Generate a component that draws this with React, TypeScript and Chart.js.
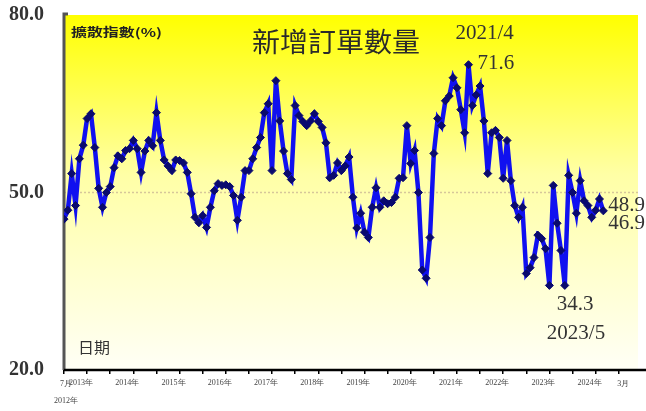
import React, { useEffect, useRef } from 'react';
import { Chart, registerables } from 'chart.js';

Chart.register(...registerables);

// Monthly values, 2012/7 … 2024/3
const VALUES: number[] = [
  45.5, 47.0, 53.2, 47.8, 55.7, 58.0, 62.5, 63.3, 57.6, 50.7, 47.5, 50.0,
  51.0, 54.2, 56.2, 55.7, 57.1, 57.4, 58.8, 57.4, 53.4, 57.0, 58.8, 57.9,
  63.5, 58.8, 55.5, 54.5, 53.7, 55.5, 55.4, 55.0, 53.4, 49.8, 45.8, 44.9,
  46.1, 44.1, 47.5, 50.3, 51.5, 51.2, 51.3, 51.0, 49.5, 45.3, 49.2, 53.7,
  53.7, 55.7, 57.6, 59.3, 63.5, 65.0, 53.7, 68.9, 62.1, 57.0, 53.2, 52.2,
  64.7, 63.0, 62.0, 61.3, 62.1, 63.3, 62.0, 61.0, 58.4, 52.5, 52.9, 55.0,
  53.7, 54.5, 56.0, 49.2, 44.0, 46.5, 43.3, 42.4, 47.5, 50.8, 47.5, 48.6,
  48.1, 48.3, 49.2, 52.4, 52.5, 61.3, 54.9, 57.1, 50.0, 36.9, 35.5, 42.4,
  56.6, 62.5, 61.3, 65.5, 66.3, 69.4, 67.7, 64.0, 60.1, 71.6, 64.7, 66.5,
  68.0, 62.1, 53.2, 60.1, 60.5, 59.3, 52.4, 58.8, 52.0, 47.8, 45.8, 47.5,
  36.3, 37.3, 39.0, 42.8, 42.2, 40.5, 34.3, 51.2, 44.8, 40.2, 34.3, 52.9,
  50.0, 46.5, 52.0, 48.6, 47.8, 45.8, 47.0, 48.9, 46.9,
];

const YEAR_LABELS = ['2013年', '2014年', '2015年', '2016年', '2017年', '2018年', '2019年', '2020年', '2021年', '2022年', '2023年', '2024年'];
const START_LABELS = ['7月', '2012年'];
const END_LABEL = '3月';
const Y_TICKS = [20, 50, 80];
const TITLE = '新增訂單數量';
const Y_TITLE = '擴散指數(%)';
const X_TITLE = '日期';
const PEAK = { index: 105, label: '2021/4', value: '71.6' };
const TROUGH = { index: 130, label: '2023/5', value: '34.3' };
const LAST_LABELS = ['48.9', '46.9'];

const SERIF = '"Liberation Serif", "Times New Roman", serif';
const CJK = '"Noto Sans CJK TC", "Noto Sans CJK SC", sans-serif';

function stretchText(ctx: CanvasRenderingContext2D, text: string, x: number, y: number, width: number) {
  const w = ctx.measureText(text).width;
  ctx.save();
  ctx.translate(x, y);
  ctx.scale(width / w, 1);
  ctx.fillText(text, 0, 0);
  ctx.restore();
}

const decorPlugin = {
  id: 'decor',
  beforeDraw(chart: any) {
    const { ctx, chartArea: a } = chart;
    ctx.save();
    const g = ctx.createLinearGradient(0, a.top, 0, a.bottom);
    g.addColorStop(0, '#ffff00');
    g.addColorStop(0.45, '#ffffa6');
    g.addColorStop(1, '#fffff6');
    ctx.fillStyle = g;
    ctx.fillRect(a.left, a.top, a.right - a.left, a.bottom - a.top);
    const y50 = chart.scales.y.getPixelForValue(50);
    ctx.strokeStyle = '#d6c79a';
    ctx.lineWidth = 1.5;
    ctx.setLineDash([2, 2]);
    ctx.beginPath();
    ctx.moveTo(a.left, y50);
    ctx.lineTo(a.right, y50);
    ctx.stroke();
    ctx.restore();
  },
  beforeDatasetsDraw(chart: any) {
    const { ctx, chartArea: a, width } = chart;
    ctx.save();
    ctx.strokeStyle = '#555';
    ctx.lineWidth = 3;
    ctx.beginPath();
    ctx.moveTo(a.left + 4, a.top - 1);
    ctx.lineTo(a.left, a.top - 1);
    ctx.lineTo(a.left, a.bottom);
    ctx.stroke();
    ctx.strokeStyle = '#000';
    ctx.lineWidth = 2.5;
    ctx.beginPath();
    ctx.moveTo(a.left, a.bottom);
    ctx.lineTo(width, a.bottom);
    ctx.stroke();
    ctx.restore();
  },
  afterDraw(chart: any) {
    const { ctx, scales } = chart;
    const x = scales.x;
    const y = scales.y;
    ctx.save();
    ctx.textBaseline = 'middle';
    ctx.textAlign = 'left';

    // title
    ctx.fillStyle = '#2b2b2b';
    ctx.font = `27px ${CJK}`;
    stretchText(ctx, TITLE, 252, 42, 168);

    // y title
    ctx.font = `bold 12px ${CJK}`;
    ctx.fillStyle = '#222';
    stretchText(ctx, Y_TITLE, 71, 32, 91);

    // x title
    ctx.font = `15px ${CJK}`;
    ctx.fillStyle = '#333';
    stretchText(ctx, X_TITLE, 78, 347, 32);

    // peak
    const px = x.getPixelForValue(PEAK.index);
    const py = y.getPixelForValue(VALUES[PEAK.index]);
    ctx.font = `21px ${SERIF}`;
    ctx.fillStyle = '#333';
    ctx.fillText(PEAK.label, px - 13, py - 31);
    ctx.fillText(PEAK.value, px + 9, py - 1);

    // trough
    const tx = x.getPixelForValue(TROUGH.index);
    const ty = y.getPixelForValue(VALUES[TROUGH.index]);
    ctx.fillText(TROUGH.value, tx - 8, ty + 19);
    ctx.fillText(TROUGH.label, tx - 18, ty + 48);

    // last values
    const lx = x.getPixelForValue(VALUES.length - 1);
    ctx.fillText(LAST_LABELS[0], lx + 5, 205);
    ctx.fillText(LAST_LABELS[1], lx + 5, 223);

    // start / end x labels
    ctx.font = `8px ${SERIF}`;
    ctx.fillStyle = '#444';
    ctx.textAlign = 'center';
    const sx = x.getPixelForValue(0);
    ctx.fillText(START_LABELS[0], sx + 2, 384);
    ctx.fillText(START_LABELS[1], sx + 2, 401);
    ctx.fillText(END_LABEL, x.getPixelForValue(VALUES.length - 1) + 20, 384);
    ctx.restore();
  },
};

export default function App() {
  const ref = useRef<HTMLCanvasElement | null>(null);
  useEffect(() => {
    if (!ref.current) return;
    const data = VALUES.map((v, i) => ({ x: i, y: v }));
    const chart = new Chart(ref.current, {
      type: 'line',
      data: {
        datasets: [
          {
            data,
            borderColor: '#1010f0',
            borderWidth: 4.5,
            pointStyle: 'rectRot',
            pointRadius: 4,
            pointBackgroundColor: '#0a0a6e',
            pointBorderColor: '#0a0a6e',
            pointBorderWidth: 1,
            tension: 0,
          },
        ],
      },
      options: {
        animation: false,
        responsive: false,
        maintainAspectRatio: false,
        layout: { padding: { top: 15, right: 8, left: 0, bottom: 0 } },
        plugins: { legend: { display: false }, tooltip: { enabled: false }, title: { display: false } },
        scales: {
          x: {
            type: 'linear',
            min: 0,
            max: 149,
            afterFit: (s: any) => {
              s.height = 41;
              s.paddingLeft = 0;
              s.paddingRight = 0;
            },
            afterBuildTicks: (s: any) => {
              const t = [];
              for (let v = 0; v <= 144; v += 6) t.push({ value: v });
              s.ticks = t;
            },
            grid: { display: true, drawOnChartArea: false, drawTicks: true, tickLength: 4, color: '#000', lineWidth: 1.5 },
            border: { display: false },
            ticks: {
              autoSkip: false,
              maxRotation: 0,
              padding: 4,
              labelOffset: -6,
              color: '#444',
              font: { family: SERIF, size: 8 },
              callback: (v: any) => {
                const n = Number(v);
                if (n >= 6 && (n - 6) % 12 === 0) return YEAR_LABELS[(n - 6) / 12] ?? '';
                return '';
              },
            },
          },
          y: {
            min: 20,
            max: 80,
            afterFit: (s: any) => {
              s.width = 64;
              s.paddingTop = 0;
              s.paddingBottom = 0;
            },
            afterBuildTicks: (s: any) => {
              s.ticks = Y_TICKS.map((v) => ({ value: v }));
            },
            grid: { display: false, drawTicks: false },
            border: { display: false },
            ticks: {
              padding: 20,
              color: '#333',
              font: { family: SERIF, size: 20, weight: 'bold' },
              callback: (v: any) => Number(v).toFixed(1),
            },
          },
        },
      },
      plugins: [decorPlugin],
    });
    return () => chart.destroy();
  }, []);
  return (
    <div style={{ position: 'fixed', left: 0, top: 0, width: 646, height: 411, background: '#fff' }}>
      <canvas ref={ref} width={646} height={411} style={{ width: 646, height: 411, display: 'block' }} />
    </div>
  );
}
